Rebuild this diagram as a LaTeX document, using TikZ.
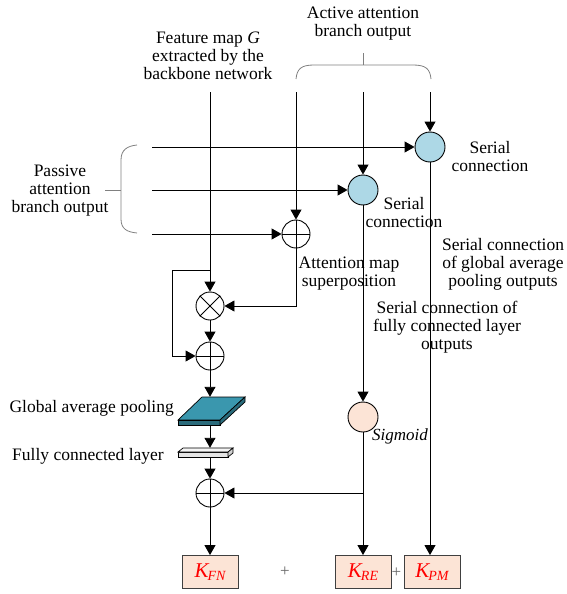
\documentclass[tikz,border=0pt]{standalone}
\usepackage{fontspec}
\setmainfont{Liberation Serif}
\usetikzlibrary{arrows.meta}
\definecolor{serialblue}{HTML}{ADD8E6}
\definecolor{peach}{HTML}{FCE4D6}
\definecolor{gapteal}{HTML}{3A97AE}
\definecolor{gapdark}{HTML}{2A6B7B}
\newcommand\kname[2]{\textcolor{red}{\fontsize{21}{21}\selectfont\itshape #1\kern-1pt\raisebox{-3pt}{\fontsize{14}{14}\selectfont #2}}}
\begin{document}
\begin{tikzpicture}[x=1pt,y=-1pt,
  font=\fontsize{17.5}{18}\selectfont,
  conn/.style={line width=0.9pt},
  arr/.style={conn,-{Triangle[length=10pt,width=11pt]}},
  bracepath/.style={draw=gray,line width=0.8pt},
  opcirc/.style={circle,draw,line width=0.9pt,minimum size=28pt,inner sep=0pt},
  sercirc/.style={circle,draw,line width=0.9pt,fill=serialblue,minimum size=30pt,inner sep=0pt},
  sigcirc/.style={circle,draw,line width=0.9pt,fill=peach,minimum size=30pt,inner sep=0pt},
  kbox/.style={draw=black!75,line width=0.9pt,fill=peach,minimum width=56pt,minimum height=33pt,inner sep=0pt},
  lbl/.style={align=center,inner sep=0pt},
  plussign/.style={font=\fontsize{17}{17}\selectfont,text=black!60,inner sep=0pt}
]
\useasboundingbox (0,0) rectangle (567,594);

% ---- operator and connection nodes
\node[sercirc] (s1) at (430,147) {};
\node[sercirc] (s2) at (363,190) {};
\node[opcirc] (sup) at (296,234) {};
\node[opcirc] (mul) at (210,306) {};
\node[opcirc] (add1) at (210,356) {};
\node[opcirc] (add2) at (210,493) {};
\node[sigcirc] (sig) at (363,417) {};
\node[inner sep=0pt,minimum width=67pt,minimum height=28pt] (gap) at (211.5,411) {};
\node[inner sep=0pt,minimum width=55pt,minimum height=9pt] (fc) at (205.5,452.5) {};

% ---- output boxes
\node[kbox] (kfn) at (210,572) {\kname{K}{FN}};
\node[kbox] (kre) at (363,572) {\kname{K}{RE}};
\node[kbox] (kpm) at (432,572) {\kname{K}{PM}};
\node[plussign] (pa) at (285,572) {+};
\node[plussign] (pb) at (396.5,573) {+};

% ---- signs inside the operator circles
\draw[conn] (sup.north) -- (sup.south) (sup.west) -- (sup.east);
\draw[conn] (mul.north east) -- (mul.south west) (mul.north west) -- (mul.south east);
\draw[conn] (add1.north) -- (add1.south) (add1.west) -- (add1.east);
\draw[conn] (add2.north) -- (add2.south) (add2.west) -- (add2.east);

% ---- pooling slab
\draw[line width=0.7pt,fill=gapteal] (178,420) -- (220,420) -- (245,397) -- (202,397) -- cycle;
\draw[line width=0.7pt,fill=gapdark] (178,420) -- (220,420) -- (220,425) -- (178,425) -- cycle;
\draw[line width=0.7pt,fill=gapdark] (220,420) -- (245,397) -- (245,402) -- (220,425) -- cycle;

% ---- fully connected bar
\draw[line width=0.7pt,fill=black!10] (178,452) -- (228,452) -- (228,457) -- (178,457) -- cycle;
\draw[line width=0.7pt,fill=black!4] (178,452) -- (183,448) -- (233,448) -- (228,452) -- cycle;
\draw[line width=0.7pt,fill=black!18] (228,452) -- (233,448) -- (233,453) -- (228,457) -- cycle;

% ---- free ends of the inputs
\coordinate (gtop) at (210,92);
\coordinate (a1) at (296,92);
\coordinate (a2) at (363,92);
\coordinate (a3) at (430,92);
\coordinate (p1) at (152,147);
\coordinate (p2) at (152,190);
\coordinate (p3) at (152,234);
\coordinate (loopa) at (210,270);
\coordinate (loopb) at (172,270);
\coordinate (fcjoin) at (363,493);

% ---- active branch inputs
\draw[arr] (a3) -- (s1.north);
\draw[arr] (a2) -- (s2.north);
\draw[arr] (a1) -- (sup.north);
% ---- passive branch inputs
\draw[arr] (p1) -- (s1.west);
\draw[arr] (p2) -- (s2.west);
\draw[arr] (p3) -- (sup.west);

% ---- main path
\draw[arr] (gtop) -- (mul.north);
\draw[arr] (sup.south) |- (mul.east);
\draw[arr] (mul.south) -- (add1.north);
\draw[arr] (loopa) -- (loopb) |- (add1.west);
\draw[arr] (add1.south) -- (add1.south |- gap.north);
\draw[arr] (add1.south |- gap.south) -- (add1.south |- fc.north);
\draw[arr] (add1.south |- fc.south) -- (add2.north);
\draw[arr] (add2.south) -- (kfn.north);

% ---- serial branches
\draw[arr] (s2.south) -- (sig.north);
\draw[arr] (sig.south) -- (kre.north);
\draw[arr] (fcjoin) -- (add2.east);
\draw[arr] (s1.south) -- (s1.south |- kpm.north);

% ---- braces
\draw[bracepath] (296,79) .. controls (297,69) and (301,65) .. (314,65) -- (413,65) .. controls (426,65) and (430,69) .. (431,79);
\draw[bracepath] (363,65) -- (363,53);
\draw[bracepath] (137,145) .. controls (127,146) and (121,150) .. (121,160) -- (121,219) .. controls (121,229) and (127,232) .. (137,233);
\draw[bracepath] (121,190) -- (105,190);

% ---- labels
\node[lbl] (tact) at (363,24) {Active attention\\branch output};
\node[lbl] (tfeat) at (208,56) {Feature map \textit{G}\\extracted by the\\backbone network};
\node[lbl] (tpas) at (60,191) {Passive\\attention\\branch output};
\node[lbl] (ts1) at (490,157) {Serial\\connection};
\node[lbl] (ts2) at (404,213) {Serial\\connection};
\node[lbl] (tsup) at (349,274) {Attention map\\superposition};
\node[lbl] (tgapout) at (503,264) {Serial connection\\of global average\\pooling outputs};
\node[lbl] (tfcout) at (447,327) {Serial connection of\\fully connected layer\\outputs};
\node[lbl,anchor=east] (tgap) at (174,408) {Global average pooling};
\node[lbl,anchor=east] (tfc) at (164,456) {Fully connected layer};
\node[lbl,font=\fontsize{17}{18}\selectfont\itshape] (tsig) at (400,436) {Sigmoid};
\end{tikzpicture}
\end{document}
